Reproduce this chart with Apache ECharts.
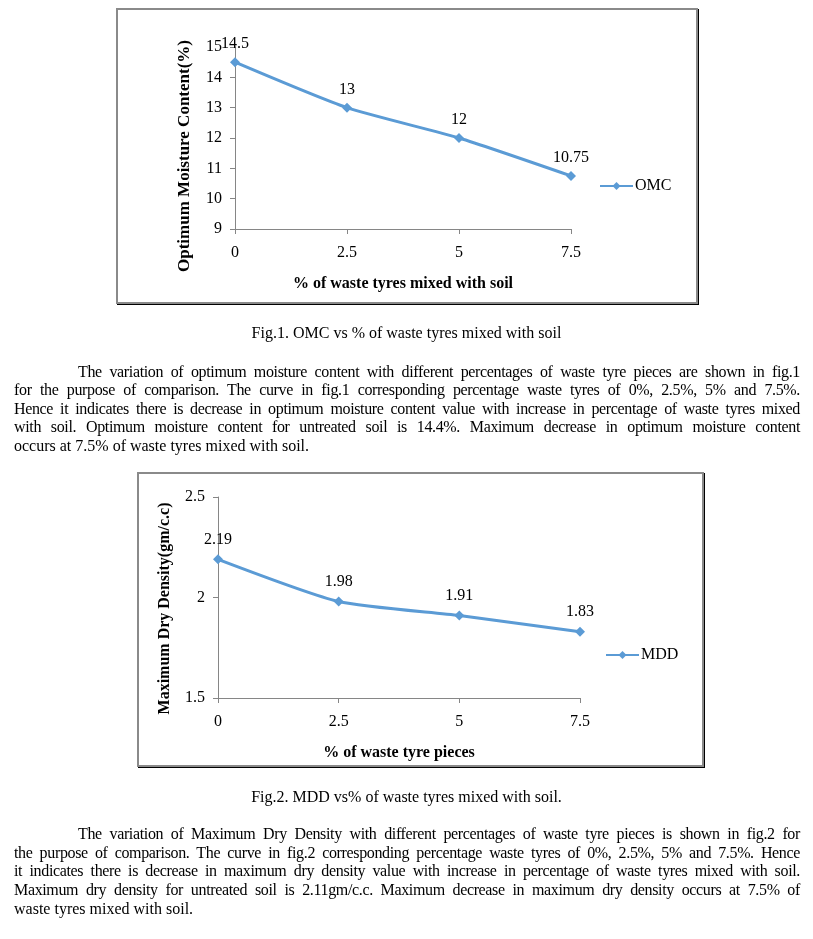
<!DOCTYPE html>
<html>
<head>
<meta charset="utf-8">
<script src="https://cdn.jsdelivr.net/npm/echarts@6/dist/echarts.min.js"></script>
<style>
  html, body { margin: 0; padding: 0; background: #fff; }
  body { width: 813px; height: 939px; position: relative; overflow: hidden;
         font-family: "Liberation Serif", "Times New Roman", serif; color: #000; }
  .box { position: absolute; border: 2px solid #8a8a8a; box-shadow: 1px 1px 0 #000; box-sizing: border-box; }
  #chart { position: absolute; left: 0; top: 0; width: 813px; height: 939px; z-index: 2; }
  .cap { position: absolute; left: 0; width: 813px; text-align: center; font-size: 16px; line-height: 18px; z-index: 3; }
  .ln { position: absolute; left: 14px; width: 786px; font-size: 16px; line-height: 18px; letter-spacing: -0.35px; word-spacing: -0.5px;
        text-align: justify; text-align-last: justify; z-index: 3; white-space: nowrap; }
  .ln.last { text-align-last: left; letter-spacing: 0; word-spacing: 0; }
  .ln.first { left: 78px; width: 722px; }
</style>
</head>
<body>
<div class="box" style="left:116px; top:8px; width:582px; height:296px;"></div>
<div class="box" style="left:137px; top:472px; width:567px; height:295px;"></div>
<div id="chart"></div>

<div class="cap" style="top:324px;">Fig.1. OMC vs % of waste tyres mixed with soil</div>
<div class="ln first" style="top:363px;">The variation of optimum moisture content with different percentages of waste tyre pieces are shown in fig.1</div>
<div class="ln" style="top:381px;">for the purpose of comparison. The curve in fig.1 corresponding percentage waste tyres of 0%, 2.5%, 5% and 7.5%.</div>
<div class="ln" style="top:400px;">Hence it indicates there is decrease in optimum moisture content value with increase in percentage of waste tyres mixed</div>
<div class="ln" style="top:418px;">with soil. Optimum moisture content for untreated soil is 14.4%. Maximum decrease in optimum moisture content</div>
<div class="ln last" style="top:437px;">occurs at 7.5% of waste tyres mixed with soil.</div>

<div class="cap" style="top:788px;">Fig.2. MDD vs% of waste tyres mixed with soil.</div>
<div class="ln first" style="top:825px;">The variation of Maximum Dry Density with different percentages of waste tyre pieces is shown in fig.2 for</div>
<div class="ln" style="top:844px;">the purpose of comparison. The curve in fig.2 corresponding percentage waste tyres of 0%, 2.5%, 5% and 7.5%. Hence</div>
<div class="ln" style="top:862px;">it indicates there is decrease in maximum dry density value with increase in percentage of waste tyres mixed with soil.</div>
<div class="ln" style="top:881px;">Maximum dry density for untreated soil is 2.11gm/c.c. Maximum decrease in maximum dry density occurs at 7.5% of</div>
<div class="ln last" style="top:900px;">waste tyres mixed with soil.</div>

<script>
// ---- data ----
const xCategories = ['0', '2.5', '5', '7.5'];
const omcValues = [14.5, 13, 12, 10.75];
const mddValues = [2.19, 1.98, 1.91, 1.83];
const omcAxis = { min: 9, max: 15, interval: 1 };
const mddAxis = { min: 1.5, max: 2.5, interval: 0.5 };
const omcName = 'OMC';
const mddName = 'MDD';
const omcXTitle = '% of waste tyres mixed with soil';
const omcYTitle = 'Optimum Moisture Content(%)';
const mddXTitle = '% of waste tyre pieces';
const mddYTitle = 'Maximum Dry Density(gm/c.c)';

const FONT = '"Liberation Serif", "Times New Roman", serif';
const BLUE = '#5b9bd5';
const AXIS = '#868686';

function xAxisCfg(gridIndex, title) {
  return {
    type: 'category', gridIndex, data: xCategories, boundaryGap: false,
    axisLine: { lineStyle: { color: AXIS, width: 1 } },
    axisTick: { show: true, length: 5, inside: false, lineStyle: { color: AXIS } },
    axisLabel: { fontFamily: FONT, fontSize: 16, color: '#000', margin: 16 },
    splitLine: { show: false },
    name: title, nameLocation: 'middle', nameGap: 47,
    nameTextStyle: { fontFamily: FONT, fontSize: 16, fontWeight: 'bold', color: '#000' }
  };
}
function yAxisCfg(gridIndex, ax, title, gap, size, shift) {
  return {
    type: 'value', gridIndex, min: ax.min, max: ax.max, interval: ax.interval,
    axisLine: { show: true, lineStyle: { color: AXIS, width: 1 } },
    axisTick: { show: true, length: 5, lineStyle: { color: AXIS } },
    axisLabel: { fontFamily: FONT, fontSize: 16, color: '#000', margin: 13 },
    splitLine: { show: false },
    name: title, nameLocation: 'middle', nameRotate: 90, nameGap: gap,
    nameTextStyle: { fontFamily: FONT, fontSize: size, fontWeight: 'bold', color: '#000',
                     padding: [0, shift, 0, 0] }
  };
}
function seriesCfg(name, data, idx, dist) {
  return {
    name, type: 'line', data, xAxisIndex: idx, yAxisIndex: idx,
    smooth: 0.2, symbol: 'diamond', symbolSize: 10,
    lineStyle: { color: BLUE, width: 3 },
    itemStyle: { color: BLUE },
    label: { show: true, position: 'top', distance: dist, fontFamily: FONT, fontSize: 16, color: '#000' },
    animation: false
  };
}

const chart = echarts.init(document.getElementById('chart'), null, { renderer: 'canvas' });
chart.setOption({
  backgroundColor: 'transparent',
  animation: false,
  grid: [
    { left: 235, top: 47, width: 336, height: 182 },
    { left: 218, top: 497, width: 362, height: 201 }
  ],
  legend: [
    { data: [omcName], left: 594, top: 173, itemWidth: 33, itemHeight: 10, itemGap: 2,
      textStyle: { fontFamily: FONT, fontSize: 16, color: '#000', padding: [0, 0, 0, -3] } },
    { data: [mddName], left: 600, top: 642, itemWidth: 33, itemHeight: 10, itemGap: 2,
      textStyle: { fontFamily: FONT, fontSize: 16, color: '#000', padding: [0, 0, 0, -3] } }
  ],
  xAxis: [xAxisCfg(0, omcXTitle), xAxisCfg(1, mddXTitle)],
  yAxis: [yAxisCfg(0, omcAxis, omcYTitle, 42, 17, 36), yAxisCfg(1, mddAxis, mddYTitle, 45, 16, 22)],
  series: [seriesCfg(omcName, omcValues, 0, 5), seriesCfg(mddName, mddValues, 1, 7)]
});
</script>
</body>
</html>
